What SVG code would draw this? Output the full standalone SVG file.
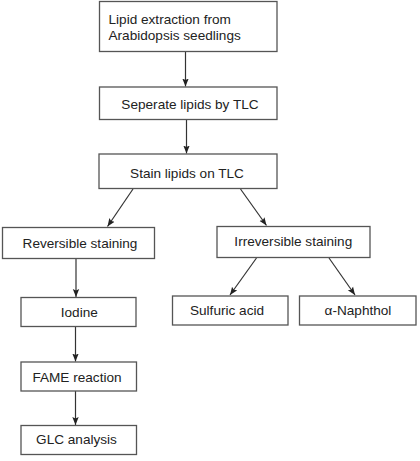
<svg xmlns="http://www.w3.org/2000/svg" width="420" height="461" viewBox="0 0 420 461">
<defs>
<marker id="ah" markerWidth="8" markerHeight="8" viewBox="0 0 8 8" refX="8" refY="4" orient="auto" markerUnits="userSpaceOnUse">
<path d="M0,0.8 L8,4 L0,7.2 L1.5,4 Z" fill="#222"/>
</marker>
</defs>
<style>
.box{fill:#fff;stroke:#555;stroke-width:1.3}
.t{font-family:"Liberation Sans",Arial,sans-serif;font-size:13.6px;fill:#222}
.c{text-anchor:middle}
.e{stroke:#333;stroke-width:1.2;fill:none;marker-end:url(#ah)}
</style>
<rect width="420" height="461" fill="#fff"/>
<g id="connectors">
<line class="e" x1="185.5" y1="51.5" x2="185.5" y2="86.5"/>
<line class="e" x1="186.5" y1="119.5" x2="186.5" y2="153.5"/>
<line class="e" x1="133" y1="189" x2="107.5" y2="226.5"/>
<line class="e" x1="240.5" y1="189" x2="266.5" y2="225.5"/>
<line class="e" x1="76" y1="259" x2="76" y2="297"/>
<line class="e" x1="256.5" y1="258" x2="230" y2="295"/>
<line class="e" x1="329" y1="258" x2="355" y2="295"/>
<line class="e" x1="75.5" y1="327" x2="75.5" y2="361.5"/>
<line class="e" x1="75.5" y1="391" x2="75.5" y2="425"/>
</g>
<g id="n1"><rect class="box" x="99.5" y="1.5" width="177.5" height="50"/>
<text class="t" x="108.5" y="23.5">Lipid extraction from</text>
<text class="t" x="108.5" y="39.5">Arabidopsis seedlings</text></g>
<g id="n2"><rect class="box" x="99.5" y="87" width="177.5" height="32.5"/>
<text class="t c" x="190" y="108.5">Seperate lipids by TLC</text></g>
<g id="n3"><rect class="box" x="99" y="154" width="178" height="34.5"/>
<text class="t c" x="187" y="177.5">Stain lipids on TLC</text></g>
<g id="n4"><rect class="box" x="2.5" y="227.5" width="152" height="31"/>
<text class="t c" x="80" y="247.5">Reversible staining</text></g>
<g id="n5"><rect class="box" x="217" y="226.5" width="153" height="31"/>
<text class="t c" x="293.3" y="246">Irreversible staining</text></g>
<g id="n6"><rect class="box" x="21" y="297.5" width="115" height="29"/>
<text class="t c" x="79.3" y="316.7">Iodine</text></g>
<g id="n7"><rect class="box" x="172.5" y="296" width="115.5" height="29"/>
<text class="t c" x="227" y="314.5">Sulfuric acid</text></g>
<g id="n8"><rect class="box" x="299.5" y="296" width="116.5" height="29"/>
<text class="t c" x="358" y="314.5">α-Naphthol</text></g>
<g id="n9"><rect class="box" x="21" y="362" width="115.5" height="29"/>
<text class="t c" x="77" y="381.7">FAME reaction</text></g>
<g id="n10"><rect class="box" x="21" y="425.5" width="115.5" height="29"/>
<text class="t c" x="76.5" y="443.5">GLC analysis</text></g>
</svg>
